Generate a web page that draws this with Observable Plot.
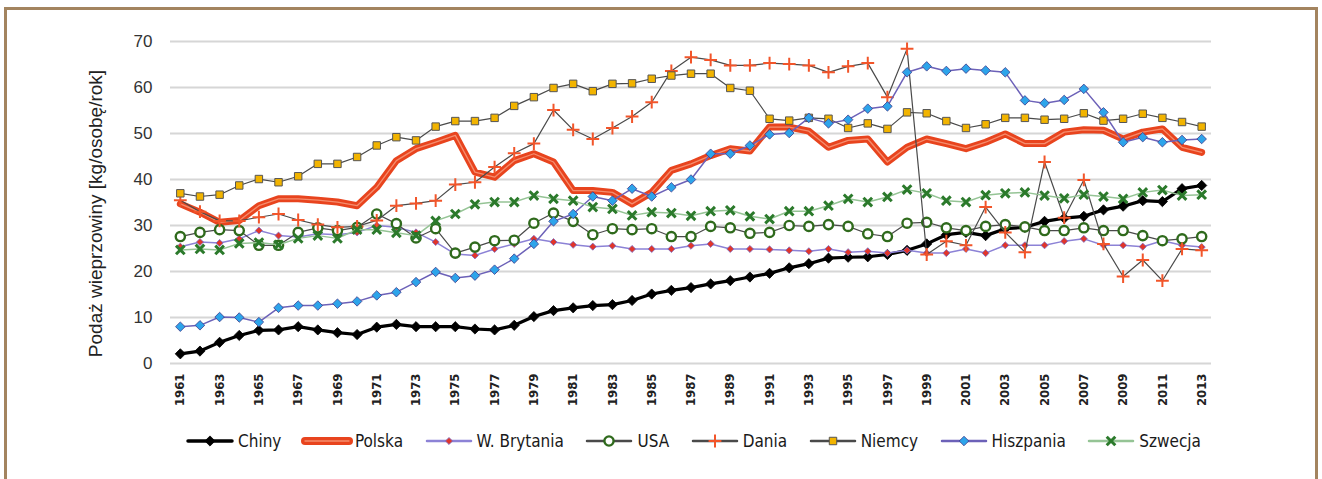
<!DOCTYPE html>
<html><head><meta charset="utf-8">
<script src="https://cdn.jsdelivr.net/npm/d3@7"></script>
<script src="https://cdn.jsdelivr.net/npm/@observablehq/plot@0.6"></script>
<style>
body{margin:0;background:#fff;font-family:"Liberation Sans",Arial,sans-serif;}
#frame{position:absolute;left:4px;top:7px;width:1314px;height:520px;border:3px solid #a3845f;box-sizing:border-box;}
#chart{position:absolute;left:0;top:0;}
#legend{position:absolute;left:184px;top:431px;width:1017px;display:flex;justify-content:space-between;align-items:center;font-size:17px;color:#1a1a1a;font-family:"Liberation Sans Narrow","DejaVu Sans Condensed","Liberation Sans",sans-serif;}
.item{display:flex;align-items:center;}
.item svg{display:block;margin-right:2px;}
</style></head><body>
<div id="frame"></div><div id="chart"></div><div id="legend"></div>
<script>
const years = [1961,1962,1963,1964,1965,1966,1967,1968,1969,1970,1971,1972,1973,1974,1975,1976,1977,1978,1979,1980,1981,1982,1983,1984,1985,1986,1987,1988,1989,1990,1991,1992,1993,1994,1995,1996,1997,1998,1999,2000,2001,2002,2003,2004,2005,2006,2007,2008,2009,2010,2011,2012,2013];
const xTickYears = [1961,1963,1965,1967,1969,1971,1973,1975,1977,1979,1981,1983,1985,1987,1989,1991,1993,1995,1997,1999,2001,2003,2005,2007,2009,2011,2013];
const yTicks = [0,10,20,30,40,50,60,70];
const yLabel = "Podaż wieprzowiny [kg/osobę/rok]";

const chiny = [2.1,2.7,4.6,6.1,7.2,7.3,8.0,7.3,6.7,6.3,7.9,8.5,8.0,8.0,8.0,7.5,7.3,8.3,10.2,11.5,12.1,12.6,12.8,13.7,15.1,15.9,16.5,17.3,18.0,18.8,19.6,20.8,21.7,22.9,23.1,23.2,23.7,24.6,26.0,28.0,28.5,27.8,29.3,29.6,30.9,31.6,32.0,33.4,34.2,35.4,35.2,38.0,38.7];
const polska = [34.7,32.9,30.7,31.1,34.3,35.8,35.8,35.5,35.1,34.3,38.3,44.1,46.7,48.1,49.6,41.6,40.5,44.1,45.6,43.8,37.6,37.6,37.2,34.7,37.2,42.0,43.4,45.2,46.7,46.2,51.4,51.4,50.5,47.0,48.5,48.8,43.8,47.0,48.8,47.8,46.7,48.1,49.9,47.8,47.8,50.3,50.8,50.7,48.8,50.3,51.0,47.0,45.9];
const wBrytania = [25.4,26.4,26.2,27.1,28.9,27.8,27.5,28.2,28.0,28.5,30.0,29.6,28.5,26.4,23.8,23.5,24.9,26.0,27.1,26.4,25.8,25.4,25.6,24.9,24.9,24.9,25.6,26.0,24.9,24.9,24.8,24.6,24.4,24.9,24.2,24.4,24.0,24.6,24.0,24.0,24.9,24.0,25.7,25.7,25.7,26.6,27.1,25.7,25.7,25.4,26.7,25.7,25.3];
const usa = [27.6,28.5,29.1,28.9,25.7,25.7,28.5,29.5,28.9,29.6,32.5,30.4,27.3,29.3,24.0,25.3,26.7,26.8,30.5,32.7,30.9,28.0,29.3,29.1,29.3,27.6,27.6,29.8,29.5,28.3,28.5,30.0,29.8,30.2,29.8,28.2,27.6,30.5,30.7,29.5,28.9,29.8,30.2,29.7,28.9,28.9,29.5,28.9,28.9,27.8,26.7,27.1,27.6];
const dania = [35.5,33.0,31.0,31.0,31.8,32.5,31.2,30.2,29.6,29.8,31.1,34.3,34.8,35.4,38.9,39.4,42.7,45.7,47.8,55.1,50.8,48.8,51.2,53.7,56.8,63.6,66.6,66.0,64.8,64.8,65.3,65.1,64.8,63.3,64.6,65.3,57.9,68.4,23.7,26.6,25.7,34.0,28.5,24.2,43.8,31.7,39.9,26.0,18.9,22.5,18.0,24.9,24.6];
const niemcy = [37.0,36.3,36.7,38.7,40.1,39.4,40.7,43.4,43.4,44.9,47.4,49.2,48.5,51.5,52.7,52.7,53.4,56.0,57.9,59.9,60.8,59.2,60.8,60.9,61.9,62.6,63.0,63.0,59.9,59.3,53.2,52.8,53.4,53.2,51.2,52.2,51.0,54.6,54.4,52.7,51.2,52.0,53.4,53.4,53.0,53.2,54.4,52.8,53.2,54.3,53.4,52.5,51.5];
const hiszpania = [8.0,8.3,10.1,10.0,9.0,12.1,12.6,12.6,13.0,13.5,14.8,15.5,17.7,19.9,18.6,19.1,20.4,22.8,26.0,30.9,32.5,36.3,35.4,38.0,36.3,38.3,40.0,45.6,45.6,47.4,49.8,50.1,53.4,52.2,53.0,55.4,55.9,63.3,64.6,63.6,64.1,63.7,63.3,57.2,56.6,57.3,59.7,54.6,48.1,49.2,48.1,48.6,48.8];
const szwecja = [24.7,24.9,24.7,26.1,26.3,25.8,27.2,27.8,27.2,29.1,29.1,28.4,27.8,31.0,32.5,34.6,35.1,35.1,36.5,35.8,35.4,34.0,33.6,32.2,32.9,32.7,32.1,33.1,33.3,32.0,31.4,33.1,33.1,34.3,35.8,35.1,36.2,37.8,37.0,35.4,35.1,36.6,37.0,37.2,36.5,35.9,36.7,36.3,35.8,37.2,37.7,36.5,36.7];

const seriesNames = ["Chiny","Polska","W. Brytania","USA","Dania","Niemcy","Hiszpania","Szwecja"];
const seriesValues = [chiny,polska,wBrytania,usa,dania,niemcy,hiszpania,szwecja];

// styles (separate from data)
const styles = {
  "Chiny":      {line:"#000000", lw:3.2, legendLw:3.5, symbol:"diamond2", r:4.6, fill:"#000", stroke:"#000", sw:0.8},
  "Polska":     {line:"#e8441e", lw:7,   legendLw:8, inner:"#f58d6e", symbol:null},
  "W. Brytania":{line:"#8c82d6", lw:1.5, legendLw:2.5, symbol:"diamond2", r:3.2, fill:"#e0352b", stroke:"#7a6fc8", sw:0.8},
  "USA":        {line:"#4a4a4a", lw:1.2, legendLw:2.5, symbol:"circle", r:4.6, fill:"#fff", stroke:"#2f6a1c", sw:2.4},
  "Dania":      {line:"#4a4a4a", lw:1.2, legendLw:2.5, symbol:"plus", r:4.2, fill:"none", stroke:"#f2552a", sw:2},
  "Niemcy":     {line:"#4a4a4a", lw:1.2, legendLw:2.5, symbol:"square", r:4.2, fill:"#f2b400", stroke:"#555", sw:1},
  "Hiszpania":  {line:"#6c61b8", lw:1.5, legendLw:2.5, symbol:"diamond2", r:4.3, fill:"#2da4ea", stroke:"#3d3a8a", sw:0.8},
  "Szwecja":    {line:"#95c495", lw:1.5, legendLw:2.5, symbol:"times", r:4, fill:"none", stroke:"#2b7a2b", sw:3}
};

const rows = [];
seriesNames.forEach((s, i) => years.forEach((y, j) => rows.push({series: s, year: y, value: seriesValues[i][j]})));

const marks = [
  Plot.gridY(yTicks, {stroke:"#d6d6d6", strokeWidth:2, strokeOpacity:1}),
  Plot.axisY(yTicks, {tickSize:0, tickPadding:18, fontSize:17, label:null, fill:"#333"}),
  Plot.axisX(xTickYears, {tickSize:0, tickPadding:10, tickRotate:-90, tickFormat:d => String(d), fontSize:13, fontWeight:"bold", label:null, fill:"#222", fontFamily:"Liberation Sans Narrow, DejaVu Sans Condensed, sans-serif"}),
  Plot.text([yLabel], {frameAnchor:"left", textAnchor:"middle", rotate:-90, dx:-75, dy:11, fontSize:19, fill:"#222", text:d=>d})
];
for (const s of seriesNames) {
  const st = styles[s];
  const data = rows.filter(d => d.series === s);
  marks.push(Plot.line(data, {x:"year", y:"value", stroke:st.line, strokeWidth:st.lw, strokeLinejoin:"round"}));
  if (st.inner) marks.push(Plot.line(data, {x:"year", y:"value", stroke:st.inner, strokeWidth:1.3, strokeLinejoin:"round"}));
  if (st.symbol) marks.push(Plot.dot(data, {x:"year", y:"value", symbol:st.symbol, r:st.r, fill:st.fill, stroke:st.stroke, strokeWidth:st.sw}));
}

const chart = Plot.plot({
  width:1322, height:420,
  marginLeft:170, marginRight:111, marginTop:41, marginBottom:57,
  style:{background:"transparent", fontFamily:"Liberation Sans, Arial, sans-serif"},
  x:{type:"linear", domain:[1960.5, 2013.5]},
  y:{domain:[0,70]},
  marks
});
document.getElementById("chart").appendChild(chart);

// legend
const symMap = {diamond2:d3.symbolDiamond2, circle:d3.symbolCircle, plus:d3.symbolPlus, square:d3.symbolSquare, times:d3.symbolTimes};
const legend = document.getElementById("legend");
for (const s of seriesNames) {
  const st = styles[s];
  const item = document.createElement("div"); item.className = "item";
  const ns = "http://www.w3.org/2000/svg";
  const svg = document.createElementNS(ns, "svg");
  svg.setAttribute("width", 52); svg.setAttribute("height", 18);
  const line = document.createElementNS(ns, "line");
  line.setAttribute("x1", 4); line.setAttribute("x2", 48); line.setAttribute("y1", 9); line.setAttribute("y2", 9);
  line.setAttribute("stroke", st.line); line.setAttribute("stroke-width", st.legendLw);
  line.setAttribute("stroke-linecap", "round");
  svg.appendChild(line);
  if (st.inner) {
    const l2 = line.cloneNode(); l2.setAttribute("stroke", st.inner); l2.setAttribute("stroke-width", 1.3); svg.appendChild(l2);
  }
  if (st.symbol) {
    const p = document.createElementNS(ns, "path");
    p.setAttribute("d", d3.symbol(symMap[st.symbol], Math.PI * st.r * st.r)());
    p.setAttribute("transform", "translate(26,9)");
    p.setAttribute("fill", st.fill); p.setAttribute("stroke", st.stroke); p.setAttribute("stroke-width", st.sw);
    svg.appendChild(p);
  }
  item.appendChild(svg);
  const t = document.createElement("span"); t.textContent = s; item.appendChild(t);
  legend.appendChild(item);
}
</script>
</body></html>
